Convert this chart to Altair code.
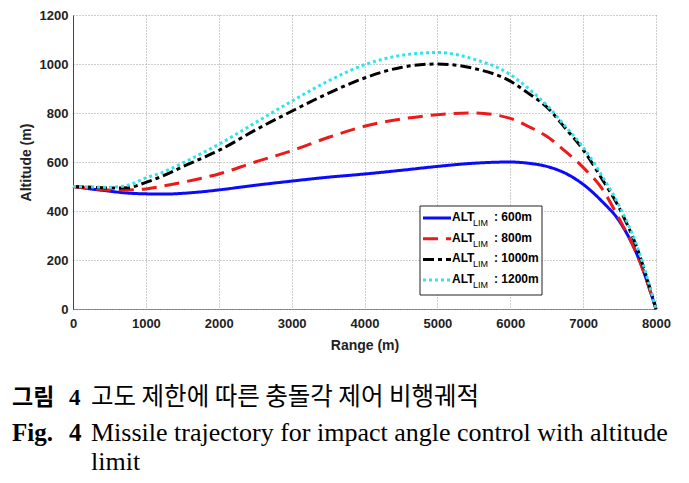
import altair as alt
import pandas as pd

# ---- data ----
range_m = [0, 250, 500, 750, 1000, 1250, 1500, 1750, 2000, 2500, 3000, 3500,
           4000, 4500, 5000, 5500, 6000, 6250, 6500, 6750, 7000, 7250, 7500, 7750, 8000]
alt_600 = [500, 490, 481, 473, 470, 469, 472, 478, 486, 505, 522, 538,
           551, 566, 582, 595, 600, 595, 582, 555, 509, 442, 357, 215, 0]
alt_800 = [500, 492, 486, 486, 490, 503, 517, 533, 551, 600, 646, 700,
           746, 775, 793, 800, 778, 745, 705, 645, 578, 495, 365, 215, 0]
alt_1000 = [500, 497, 494, 495, 517, 545, 580, 613, 647, 730, 807, 880,
            943, 986, 1000, 982, 930, 880, 825, 740, 650, 535, 410, 240, 0]
alt_1200 = [500, 498, 497, 505, 535, 560, 595, 633, 672, 760, 848, 930,
            997, 1035, 1047, 1020, 957, 900, 832, 748, 660, 548, 418, 248, 0]

series_names = ["600m", "800m", "1000m", "1200m"]
series_values = [alt_600, alt_800, alt_1000, alt_1200]
series_colors = ["#0a0aff", "#ec1a1a", "#000000", "#30e4ee"]
series_dash = [[1, 0], [15, 8], [11, 4, 4, 4], [3, 3]]

x_ticks = [0, 1000, 2000, 3000, 4000, 5000, 6000, 7000, 8000]
y_ticks = [0, 200, 400, 600, 800, 1000, 1200]

caption_ko_label = "그림"
caption_num = "4"
caption_ko_text = "고도 제한에 따른 충돌각 제어 비행궤적"
caption_en_label = "Fig."
caption_en_text = "Missile trajectory for impact angle control with altitude"
caption_en_text2 = "limit"

rows = []
for name, vals in zip(series_names, series_values):
    for r, a in zip(range_m, vals):
        rows.append({"range": r, "alt": a, "series": name})
df = pd.DataFrame(rows)

W, H = 583, 294

x_enc = alt.X("range:Q", scale=alt.Scale(domain=[0, 8000], nice=False),
              axis=alt.Axis(values=x_ticks, format="d", title="Range (m)",
                            titlePadding=8, labelPadding=8, labelFlush=False,
                            domainDash=[1, 1], domainColor="#333333"))
y_enc = alt.Y("alt:Q", scale=alt.Scale(domain=[0, 1200], nice=False),
              axis=alt.Axis(values=y_ticks, format="d", title="Altitude (m)",
                            titlePadding=6, labelPadding=5, labelFlush=False,
                            domainColor="#444444"))

layers = []
for name, col, dash in zip(series_names, series_colors, series_dash):
    layers.append(
        alt.Chart(df).transform_filter(alt.datum.series == name)
        .mark_line(strokeWidth=3, interpolate="monotone", color=col,
                   strokeDash=dash, strokeCap="butt")
        .encode(x=x_enc, y=y_enc)
    )

one = pd.DataFrame({"v": [0]})

def txt(text, x, y, size, weight="normal", font="Liberation Sans",
        align="left", baseline="middle"):
    return alt.Chart(one).mark_text(text=text, fontSize=size, fontWeight=weight,
                                    font=font, align=align, baseline=baseline,
                                    color="black").encode(
        x=alt.value(x), y=alt.value(y))

# legend box
box_x0, box_x1, box_y0, box_y1 = 347, 469, 191, 280
layers.append(alt.Chart(one).mark_rect(fill="white", stroke="#222222", strokeWidth=1)
              .encode(x=alt.value(box_x0), x2=alt.value(box_x1),
                      y=alt.value(box_y0), y2=alt.value(box_y1)))
row_y0, row_dy = 203, 20.7
for i, (name, col, dash) in enumerate(zip(series_names, series_colors, series_dash)):
    ry = row_y0 + i * row_dy
    layers.append(alt.Chart(one).mark_rule(color=col, strokeWidth=3,
                                           strokeDash=dash, strokeCap="butt")
                  .encode(x=alt.value(350), x2=alt.value(378), y=alt.value(ry)))
    layers.append(txt("ALT", 379, ry - 1, 12, "bold"))
    layers.append(txt("LIM", 400, ry + 5, 9))
    layers.append(txt(": " + name, 421, ry - 1, 12, "bold"))

# caption
ko_y, en_y, en2_y = 383, 418, 447
layers.append(txt(caption_ko_label, -61, ko_y, 23, "bold", "Noto Sans CJK KR"))
layers.append(txt(caption_num, -4, ko_y, 23, "bold", "Liberation Serif"))
layers.append(txt(caption_ko_text, 18, ko_y, 24.5, "normal", "Noto Sans CJK KR"))
layers.append(txt(caption_en_label, -61, en_y, 25, "bold", "Liberation Serif"))
layers.append(txt(caption_num, -4, en_y, 25, "bold", "Liberation Serif"))
layers.append(txt(caption_en_text, 18, en_y, 26, "normal", "Liberation Serif"))
layers.append(txt(caption_en_text2, 18, en2_y, 26, "normal", "Liberation Serif"))

chart = alt.layer(*layers).properties(
    width=W, height=H,
    autosize=alt.AutoSizeParams(type="none"),
    padding={"left": 65, "top": 7, "right": 25, "bottom": 170},
).configure_view(stroke=None).configure_axis(
    labelFont="Liberation Sans", labelFontWeight="bold", labelFontSize=13,
    labelColor="#222222",
    titleFont="Liberation Sans", titleFontWeight="bold", titleFontSize=14,
    titleColor="#222222",
    grid=True, gridColor="#9a9a9a", gridDash=[1, 2], gridWidth=1,
    ticks=False,
)

chart.save("out.html", embed_options={"renderer": "svg", "actions": False})
